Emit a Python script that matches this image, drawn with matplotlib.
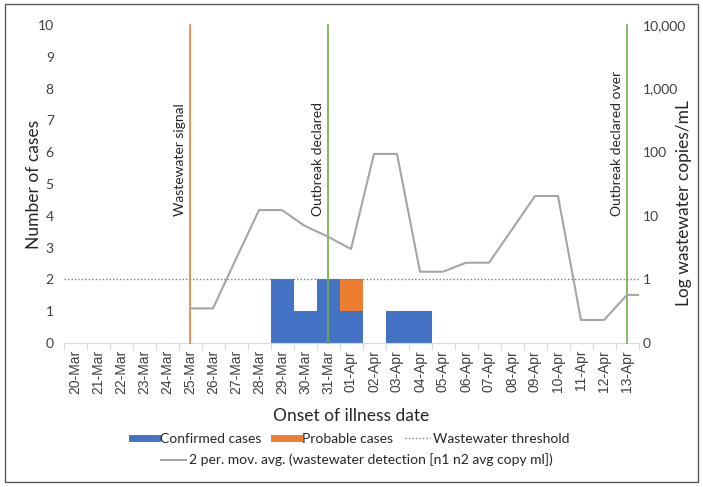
import matplotlib
matplotlib.use("Agg")
import matplotlib.pyplot as plt
from matplotlib.lines import Line2D
from matplotlib.patches import Rectangle
from matplotlib.ticker import FixedLocator, FuncFormatter, NullLocator
import numpy as np

plt.rcParams['font.family'] = ['Lato', 'DejaVu Sans']

# Onset-of-illness dates (category axis)
dates = ['20-Mar', '21-Mar', '22-Mar', '23-Mar', '24-Mar', '25-Mar', '26-Mar',
         '27-Mar', '28-Mar', '29-Mar', '30-Mar', '31-Mar', '01-Apr', '02-Apr',
         '03-Apr', '04-Apr', '05-Apr', '06-Apr', '07-Apr', '08-Apr', '09-Apr',
         '10-Apr', '11-Apr', '12-Apr', '13-Apr']

# Case counts per onset date
confirmed = [0, 0, 0, 0, 0, 0, 0, 0, 0, 2, 1, 2, 1, 0, 1, 1, 0, 0, 0, 0, 0, 0, 0, 0, 0]
probable = [0, 0, 0, 0, 0, 0, 0, 0, 0, 0, 0, 0, 1, 0, 0, 0, 0, 0, 0, 0, 0, 0, 0, 0, 0]

# 2-period moving average of wastewater detection (copies/mL)
ww_dates = ['25-Mar', '26-Mar', '27-Mar', '28-Mar', '29-Mar', '30-Mar', '31-Mar',
            '01-Apr', '02-Apr', '03-Apr', '04-Apr', '05-Apr', '06-Apr', '07-Apr',
            '08-Apr', '09-Apr', '10-Apr', '11-Apr', '12-Apr', '13-Apr', '14-Apr']
ww_avg = [0.35, 0.35, 2.1, 12.3, 12.3, 6.9, 4.7, 3.0, 94, 94, 1.32, 1.32,
          1.83, 1.83, 6.1, 20.5, 20.5, 0.23, 0.23, 0.57, 0.57]
ww_threshold = 1

# Key events
event_labels = ['Wastewater signal', 'Outbreak declared', 'Outbreak declared over']
event_dates = ['25-Mar', '31-Mar', '13-Apr']
event_colors = ['#ED7D31', '#70AD47', '#70AD47']

# Secondary axis ticks
right_ticks = [0.1, 1, 10, 100, 1000, 10000]

W, H = 703, 487
fig = plt.figure(figsize=(W / 100, H / 100), dpi=100)
ax_l, ax_r, ax_t, ax_b = 63.5, 638.5, 25, 343
ax = fig.add_axes([ax_l / W, 1 - ax_b / H, (ax_r - ax_l) / W, (ax_b - ax_t) / H])
aw = ax_r - ax_l
ah = ax_b - ax_t

x = np.arange(len(dates))
blue, orange, gray = '#4472C4', '#ED7D31', '#A5A5A5'
text_col = '#404040'

ax.bar(x, confirmed, width=1.0, color=blue, zorder=2)
ax.bar(x, probable, width=1.0, bottom=confirmed, color=orange, zorder=2)

ax.set_xlim(-0.5, len(dates) - 0.5)
ax.set_ylim(0, 10)
ax.set_yticks(range(0, 11))
ax.set_xticks(x)
ax.set_xticklabels(dates, rotation=90, family=['Liberation Sans'], fontsize=10,
                   color=text_col)
ax.xaxis.set_minor_locator(FixedLocator(np.arange(-0.5, len(dates), 1.0)))
ax.tick_params(axis='x', which='major', length=0, pad=5)
ax.tick_params(axis='x', which='minor', length=5, color='#D9D9D9', width=0.8)
ax.tick_params(axis='y', length=0, labelsize=10, labelcolor=text_col, pad=7)
for s in ('left', 'right', 'top'):
    ax.spines[s].set_visible(False)
ax.spines['bottom'].set_color('#D9D9D9')
ax.spines['bottom'].set_linewidth(0.8)

ax.set_ylabel('Number of cases', fontsize=12.5, color='#262626')
ax.yaxis.set_label_coords((42 - ax_l) / aw, 0.5)
ax.set_xlabel('Onset of illness date', fontsize=12.5, color='#262626', labelpad=10)

# Event markers with rotated captions
for lab, d, c in zip(event_labels, event_dates, event_colors):
    xi = dates.index(d)
    ax.plot([xi, xi], [0, 10], color=c, lw=1.2, zorder=3, clip_on=False)
    ax.annotate(lab, xy=(xi, 4), xytext=(-3, 0), textcoords='offset points',
                rotation=90, ha='right', va='bottom', fontsize=10, color='#262626')

# Wastewater axis (log scale)
ax2 = ax.twinx()
ax2.set_yscale('log')
ax2.set_ylim(right_ticks[0], right_ticks[-1])
ax2.yaxis.set_major_locator(FixedLocator(right_ticks))
ax2.yaxis.set_minor_locator(NullLocator())
ax2.yaxis.set_major_formatter(FuncFormatter(lambda v, p: f'{v:,.0f}'))
ax2.tick_params(axis='y', length=0, labelsize=10, labelcolor=text_col, pad=3)
for s in ('left', 'right', 'top', 'bottom'):
    ax2.spines[s].set_visible(False)
ax2.set_ylabel('Log wastewater copies/mL', fontsize=12.5, color='#262626')
ax2.yaxis.set_label_coords((676 - ax_l) / aw, (ax_b - 203) / ah)

ax2.axhline(ww_threshold, color='#7F7F7F', lw=1.0, ls=(0, (1, 1.5)), zorder=1)
wx = np.array([dates.index(d) if d in dates else len(dates) for d in ww_dates])
ax2.plot(wx, ww_avg, color=gray, lw=1.5, zorder=4)
ax2.set_xlim(-0.5, len(dates) - 0.5)

# Legend
h1 = [Line2D([], [], color=blue, lw=5),
      Line2D([], [], color=orange, lw=5),
      Line2D([], [], color='#7F7F7F', lw=1.0, ls=(0, (1, 1.5)))]
l1 = ['Confirmed cases', 'Probable cases', 'Wastewater threshold']
fig.legend(h1, l1, loc='center', bbox_to_anchor=(351 / W, 1 - 439 / H),
           ncol=3, frameon=False, fontsize=10, handlelength=1.8,
           handletextpad=0.2, columnspacing=0.9, labelcolor='#262626')
h2 = [Line2D([], [], color=gray, lw=1.5)]
l2 = ['2 per. mov. avg. (wastewater detection [n1 n2 avg copy ml])']
fig.legend(h2, l2, loc='center', bbox_to_anchor=(357 / W, 1 - 460 / H),
           frameon=False, fontsize=10, handlelength=1.8, handletextpad=0.2,
           labelcolor='#262626')

# Outer frame
fig.patches.append(Rectangle((5 / W, 5 / H), 1 - 10 / W, 1 - 9 / H, fill=False,
                             edgecolor='#595959', lw=1.0, transform=fig.transFigure))

fig.savefig('out.png', dpi=100)
